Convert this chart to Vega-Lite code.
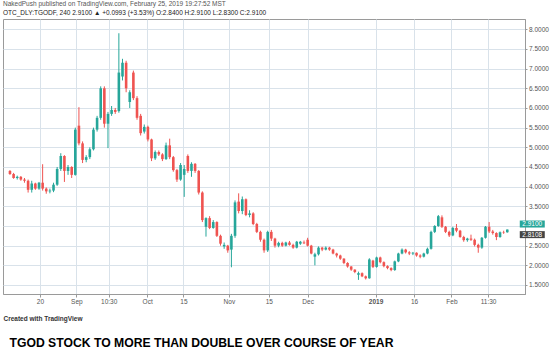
{
  "$schema": "https://vega.github.io/schema/vega-lite/v6.json",
  "autosize": "none",
  "width": 522,
  "height": 275,
  "padding": {"left": 3, "top": 19, "right": 30, "bottom": 65},
  "background": "white",
  "config": {
    "view": {"stroke": "#9a9a9a", "strokeWidth": 1},
    "font": "Liberation Sans"
  },
  "title": {
    "text": "NakedPush published on TradingView.com, February 25, 2019 19:27:52 MST",
    "subtitle": "OTC_DLY:TGODF, 240  2.9100 ▲ +0.0993 (+3.53%)  O:2.8400  H:2.9100  L:2.8300  C:2.9100",
    "anchor": "start",
    "frame": "group",
    "orient": "top",
    "font": "Liberation Sans",
    "fontSize": 6.5,
    "fontWeight": "normal",
    "color": "#555555",
    "subtitleFont": "Liberation Sans",
    "subtitleFontSize": 6.5,
    "subtitleColor": "#222222",
    "subtitlePadding": 2.5,
    "offset": 3
  },
  "data": {
    "values": [
      {"i":0,"o":4.40,"h":4.42,"l":4.30,"c":4.32},
      {"i":1,"o":4.32,"h":4.35,"l":4.20,"c":4.22},
      {"i":2,"o":4.22,"h":4.28,"l":4.18,"c":4.25},
      {"i":3,"o":4.25,"h":4.27,"l":4.15,"c":4.18},
      {"i":4,"o":4.18,"h":4.22,"l":4.10,"c":4.15},
      {"i":5,"o":4.15,"h":4.18,"l":3.85,"c":3.92},
      {"i":6,"o":3.92,"h":4.15,"l":3.85,"c":4.08},
      {"i":7,"o":4.08,"h":4.10,"l":3.92,"c":3.95},
      {"i":8,"o":3.95,"h":4.12,"l":3.92,"c":4.10},
      {"i":9,"o":4.10,"h":4.57,"l":3.90,"c":3.95},
      {"i":10,"o":3.95,"h":3.98,"l":3.82,"c":3.88},
      {"i":11,"o":3.88,"h":3.95,"l":3.83,"c":3.90},
      {"i":12,"o":3.90,"h":4.10,"l":3.86,"c":4.05},
      {"i":13,"o":4.05,"h":4.50,"l":4.02,"c":4.45},
      {"i":14,"o":4.45,"h":4.85,"l":4.40,"c":4.78},
      {"i":15,"o":4.78,"h":4.80,"l":4.12,"c":4.40},
      {"i":16,"o":4.40,"h":4.55,"l":4.30,"c":4.50},
      {"i":17,"o":4.50,"h":4.52,"l":4.22,"c":4.30},
      {"i":18,"o":4.30,"h":5.50,"l":4.28,"c":5.45},
      {"i":19,"o":5.55,"h":6.02,"l":5.05,"c":5.10},
      {"i":20,"o":5.10,"h":5.15,"l":4.60,"c":4.68},
      {"i":21,"o":4.68,"h":4.80,"l":4.62,"c":4.75},
      {"i":22,"o":4.75,"h":5.00,"l":4.70,"c":4.95},
      {"i":23,"o":4.95,"h":5.50,"l":4.92,"c":5.45},
      {"i":24,"o":5.45,"h":5.80,"l":5.40,"c":5.75},
      {"i":25,"o":5.75,"h":6.55,"l":5.70,"c":6.50},
      {"i":26,"o":6.50,"h":6.55,"l":5.50,"c":5.60},
      {"i":27,"o":5.60,"h":5.90,"l":4.98,"c":5.85},
      {"i":28,"o":5.85,"h":6.05,"l":5.80,"c":5.95},
      {"i":29,"o":5.95,"h":6.00,"l":5.85,"c":5.90},
      {"i":30,"o":5.92,"h":7.90,"l":5.88,"c":6.90},
      {"i":31,"o":6.80,"h":7.25,"l":6.70,"c":7.15},
      {"i":32,"o":7.15,"h":7.20,"l":6.40,"c":6.50},
      {"i":33,"o":6.15,"h":6.45,"l":6.00,"c":6.40},
      {"i":34,"o":6.90,"h":6.95,"l":6.20,"c":6.25},
      {"i":35,"o":6.25,"h":6.30,"l":5.70,"c":5.75},
      {"i":36,"o":5.80,"h":5.85,"l":5.30,"c":5.36},
      {"i":37,"o":5.40,"h":5.58,"l":5.35,"c":5.52},
      {"i":38,"o":5.52,"h":5.55,"l":5.15,"c":5.20},
      {"i":39,"o":5.20,"h":5.22,"l":4.65,"c":4.72},
      {"i":40,"o":4.72,"h":4.92,"l":4.68,"c":4.88},
      {"i":41,"o":4.88,"h":4.92,"l":4.78,"c":4.82},
      {"i":42,"o":4.82,"h":4.85,"l":4.65,"c":4.70},
      {"i":43,"o":4.70,"h":5.12,"l":4.68,"c":5.05},
      {"i":44,"o":5.05,"h":5.22,"l":4.70,"c":4.75},
      {"i":45,"o":4.75,"h":4.78,"l":4.38,"c":4.42},
      {"i":46,"o":4.42,"h":4.45,"l":4.12,"c":4.18},
      {"i":47,"o":4.18,"h":4.60,"l":4.15,"c":4.55},
      {"i":48,"o":4.30,"h":4.55,"l":3.74,"c":4.45},
      {"i":49,"o":4.78,"h":4.82,"l":4.35,"c":4.40},
      {"i":50,"o":4.40,"h":4.62,"l":4.25,"c":4.58},
      {"i":51,"o":4.58,"h":4.60,"l":4.35,"c":4.40},
      {"i":52,"o":4.40,"h":4.42,"l":3.80,"c":3.85},
      {"i":53,"o":3.85,"h":3.88,"l":3.10,"c":3.15},
      {"i":54,"o":2.98,"h":3.22,"l":2.73,"c":3.20},
      {"i":55,"o":3.20,"h":3.25,"l":2.92,"c":2.95},
      {"i":56,"o":2.95,"h":3.15,"l":2.93,"c":3.10},
      {"i":57,"o":3.10,"h":3.12,"l":2.72,"c":2.75},
      {"i":58,"o":2.75,"h":2.78,"l":2.50,"c":2.55},
      {"i":59,"o":2.48,"h":2.58,"l":2.42,"c":2.52},
      {"i":60,"o":2.50,"h":2.52,"l":2.32,"c":2.38},
      {"i":61,"o":2.40,"h":2.80,"l":1.95,"c":2.75},
      {"i":62,"o":2.75,"h":3.65,"l":2.70,"c":3.60},
      {"i":63,"o":3.62,"h":3.83,"l":3.32,"c":3.38},
      {"i":64,"o":3.38,"h":3.75,"l":3.30,"c":3.68},
      {"i":65,"o":3.68,"h":3.70,"l":3.25,"c":3.28},
      {"i":66,"o":3.28,"h":3.40,"l":3.22,"c":3.32},
      {"i":67,"o":3.32,"h":3.35,"l":3.02,"c":3.05},
      {"i":68,"o":3.05,"h":3.08,"l":2.82,"c":2.85},
      {"i":69,"o":2.85,"h":2.88,"l":2.60,"c":2.65},
      {"i":70,"o":2.65,"h":2.68,"l":2.32,"c":2.38},
      {"i":71,"o":2.38,"h":2.88,"l":2.34,"c":2.85},
      {"i":72,"o":2.85,"h":2.90,"l":2.62,"c":2.68},
      {"i":73,"o":2.68,"h":2.70,"l":2.45,"c":2.50},
      {"i":74,"o":2.50,"h":2.60,"l":2.46,"c":2.57},
      {"i":75,"o":2.57,"h":2.60,"l":2.47,"c":2.50},
      {"i":76,"o":2.50,"h":2.60,"l":2.48,"c":2.58},
      {"i":77,"o":2.58,"h":2.62,"l":2.50,"c":2.52},
      {"i":78,"o":2.52,"h":2.55,"l":2.42,"c":2.45},
      {"i":79,"o":2.45,"h":2.62,"l":2.43,"c":2.60},
      {"i":80,"o":2.55,"h":2.62,"l":2.52,"c":2.60},
      {"i":81,"o":2.58,"h":2.63,"l":2.54,"c":2.56},
      {"i":82,"o":2.65,"h":2.70,"l":2.48,"c":2.50},
      {"i":83,"o":2.50,"h":2.52,"l":2.28,"c":2.30},
      {"i":84,"o":2.22,"h":2.32,"l":2.00,"c":2.28},
      {"i":85,"o":2.28,"h":2.48,"l":2.25,"c":2.45},
      {"i":86,"o":2.45,"h":2.47,"l":2.36,"c":2.40},
      {"i":87,"o":2.40,"h":2.48,"l":2.38,"c":2.45},
      {"i":88,"o":2.45,"h":2.47,"l":2.37,"c":2.40},
      {"i":89,"o":2.40,"h":2.42,"l":2.28,"c":2.30},
      {"i":90,"o":2.30,"h":2.32,"l":2.20,"c":2.25},
      {"i":91,"o":2.25,"h":2.27,"l":2.14,"c":2.17},
      {"i":92,"o":2.17,"h":2.18,"l":2.03,"c":2.06},
      {"i":93,"o":2.06,"h":2.08,"l":1.94,"c":1.97},
      {"i":94,"o":1.97,"h":1.98,"l":1.86,"c":1.89},
      {"i":95,"o":1.89,"h":1.90,"l":1.80,"c":1.83},
      {"i":96,"o":1.76,"h":1.84,"l":1.63,"c":1.80},
      {"i":97,"o":1.80,"h":1.82,"l":1.70,"c":1.72},
      {"i":98,"o":1.72,"h":1.74,"l":1.64,"c":1.67},
      {"i":99,"o":1.67,"h":2.18,"l":1.66,"c":2.15},
      {"i":100,"o":2.12,"h":2.14,"l":1.93,"c":1.96},
      {"i":101,"o":1.96,"h":2.22,"l":1.94,"c":2.20},
      {"i":102,"o":2.20,"h":2.22,"l":2.05,"c":2.08},
      {"i":103,"o":2.08,"h":2.10,"l":1.95,"c":1.98},
      {"i":104,"o":1.98,"h":2.00,"l":1.90,"c":1.93},
      {"i":105,"o":1.93,"h":1.95,"l":1.85,"c":1.88},
      {"i":106,"o":1.88,"h":2.12,"l":1.86,"c":2.10},
      {"i":107,"o":2.10,"h":2.32,"l":2.08,"c":2.30},
      {"i":108,"o":2.30,"h":2.43,"l":2.28,"c":2.40},
      {"i":109,"o":2.40,"h":2.42,"l":2.30,"c":2.33},
      {"i":110,"o":2.33,"h":2.36,"l":2.26,"c":2.30},
      {"i":111,"o":2.30,"h":2.34,"l":2.26,"c":2.32},
      {"i":112,"o":2.32,"h":2.33,"l":2.22,"c":2.25},
      {"i":113,"o":2.25,"h":2.28,"l":2.18,"c":2.22},
      {"i":114,"o":2.22,"h":2.32,"l":2.20,"c":2.30},
      {"i":115,"o":2.30,"h":2.45,"l":2.28,"c":2.42},
      {"i":116,"o":2.42,"h":2.88,"l":2.40,"c":2.85},
      {"i":117,"o":2.85,"h":3.02,"l":2.82,"c":3.00},
      {"i":118,"o":3.00,"h":3.28,"l":2.98,"c":3.25},
      {"i":119,"o":3.22,"h":3.27,"l":2.95,"c":2.98},
      {"i":120,"o":2.98,"h":3.00,"l":2.82,"c":2.85},
      {"i":121,"o":2.85,"h":2.88,"l":2.72,"c":2.76},
      {"i":122,"o":2.76,"h":2.98,"l":2.74,"c":2.95},
      {"i":123,"o":2.95,"h":3.05,"l":2.84,"c":2.88},
      {"i":124,"o":2.88,"h":2.90,"l":2.70,"c":2.72},
      {"i":125,"o":2.72,"h":2.75,"l":2.60,"c":2.64},
      {"i":126,"o":2.64,"h":2.70,"l":2.60,"c":2.68},
      {"i":127,"o":2.68,"h":2.78,"l":2.62,"c":2.65},
      {"i":128,"o":2.65,"h":2.68,"l":2.48,"c":2.52},
      {"i":129,"o":2.52,"h":2.55,"l":2.32,"c":2.45},
      {"i":130,"o":2.45,"h":2.72,"l":2.42,"c":2.70},
      {"i":131,"o":2.70,"h":3.00,"l":2.68,"c":2.98},
      {"i":132,"o":2.98,"h":3.10,"l":2.82,"c":2.86},
      {"i":133,"o":2.86,"h":2.90,"l":2.78,"c":2.82},
      {"i":134,"o":2.82,"h":2.84,"l":2.64,"c":2.72},
      {"i":135,"o":2.72,"h":2.86,"l":2.70,"c":2.84},
      {"i":136,"o":2.84,"h":2.88,"l":2.80,"c":2.83},
      {"i":137,"o":2.84,"h":2.91,"l":2.83,"c":2.91}
    ]
  },
  "layer": [
    {
      "mark": {"type": "rule", "strokeWidth": 1},
      "encoding": {
        "x": {
          "field": "i", "type": "quantitative",
          "scale": {"domain": [-0.54, 140.5], "nice": false, "zero": false},
          "axis": {
            "orient": "bottom",
            "values": [8.24, 18.3, 27.2, 37.8, 47.8, 60.3, 71.3, 82.0, 100.7, 111.3, 121.6, 131.7],
            "labelExpr": "datum.value < 10 ? '20' : datum.value < 20 ? 'Sep' : datum.value < 30 ? '10:30' : datum.value < 40 ? 'Oct' : datum.value < 50 ? '15' : datum.value < 65 ? 'Nov' : datum.value < 75 ? '15' : datum.value < 90 ? 'Dec' : datum.value < 105 ? '2019' : datum.value < 115 ? '16' : datum.value < 125 ? 'Feb' : '11:30'",
            "labelFontWeight": {"condition": {"test": "datum.value > 95 && datum.value < 105", "value": "bold"}, "value": "normal"},
            "labelFont": "Liberation Sans",
            "labelFontSize": 6.5,
            "labelColor": "#555555",
            "labelPadding": 1.5,
            "labelFlush": false,
            "labelOverlap": false,
            "tickSize": 3,
            "tickColor": "#9a9a9a",
            "domainColor": "#9a9a9a",
            "grid": true,
            "gridColor": "#d9e2ea",
            "title": "Created with TradingView",
            "titleFont": "Liberation Sans",
            "titleFontSize": 6.5,
            "titleFontWeight": "bold",
            "titleColor": "#333333",
            "titleAnchor": "start",
            "titleAlign": "left",
            "titleBaseline": "middle",
            "titleX": 0,
            "titleY": 24
          }
        },
        "y": {
          "field": "l", "type": "quantitative",
          "scale": {"domain": [1.271, 8.262], "nice": false, "zero": false},
          "axis": {
            "orient": "right",
            "values": [1.5, 2, 2.5, 3, 3.5, 4, 4.5, 5, 5.5, 6, 6.5, 7, 7.5, 8],
            "labelExpr": "datum.value == 3 ? '' : format(datum.value, '.4f')",
            "title": null,
            "labelFont": "Liberation Sans",
            "labelFontSize": 6.5,
            "labelColor": "#555555",
            "labelPadding": 1.5,
            "tickSize": 2,
            "tickColor": "#9a9a9a",
            "domainColor": "#9a9a9a",
            "grid": true,
            "gridColor": "#d9e2ea"
          }
        },
        "y2": {"field": "h"},
        "color": {"condition": {"test": "datum.c >= datum.o", "value": "#26a69a"}, "value": "#ef5350"}
      }
    },
    {
      "mark": {"type": "bar", "size": 2.6},
      "encoding": {
        "x": {"field": "i", "type": "quantitative"},
        "y": {
          "field": "o", "type": "quantitative",
          "axis": {
            "orient": "left",
            "title": "TGOD STOCK TO MORE THAN DOUBLE OVER COURSE OF YEAR",
            "titleAngle": 0,
            "titleX": 6,
            "titleY": 323,
            "titleAlign": "left",
            "titleBaseline": "middle",
            "titleFont": "Liberation Sans",
            "titleFontSize": 12.2,
            "titleFontWeight": "bold",
            "titleColor": "#000000",
            "labels": false,
            "ticks": false,
            "domain": false,
            "grid": false
          }
        },
        "y2": {"field": "c"},
        "color": {"condition": {"test": "datum.c >= datum.o", "value": "#26a69a"}, "value": "#ef5350"}
      }
    },
    {
      "data": {"values": [{"p": 2.8108, "lab": "2.8108"}]},
      "layer": [
        {
          "mark": {"type": "tick", "orient": "horizontal", "size": 25, "thickness": 7, "color": "#444444", "opacity": 1, "yOffset": 1.2},
          "encoding": {
            "x": {"datum": 143.88, "type": "quantitative"},
            "y": {"field": "p", "type": "quantitative", "axis": null}
          }
        },
        {
          "mark": {"type": "text", "color": "white", "fontSize": 6.5, "align": "center", "baseline": "middle", "font": "Liberation Sans", "yOffset": 1.4},
          "encoding": {
            "x": {"datum": 143.88, "type": "quantitative"},
            "y": {"field": "p", "type": "quantitative", "axis": null},
            "text": {"field": "lab"}
          }
        }
      ]
    },
    {
      "data": {"values": [{"p": 2.91, "lab": "2.9100"}]},
      "layer": [
        {
          "mark": {"type": "tick", "orient": "horizontal", "size": 25, "thickness": 7, "color": "#26a69a", "opacity": 1, "yOffset": -5.5},
          "encoding": {
            "x": {"datum": 143.88, "type": "quantitative"},
            "y": {"field": "p", "type": "quantitative", "axis": null}
          }
        },
        {
          "mark": {"type": "text", "color": "white", "fontSize": 6.5, "align": "center", "baseline": "middle", "font": "Liberation Sans", "yOffset": -5.3},
          "encoding": {
            "x": {"datum": 143.88, "type": "quantitative"},
            "y": {"field": "p", "type": "quantitative", "axis": null},
            "text": {"field": "lab"}
          }
        }
      ]
    }
  ]
}
